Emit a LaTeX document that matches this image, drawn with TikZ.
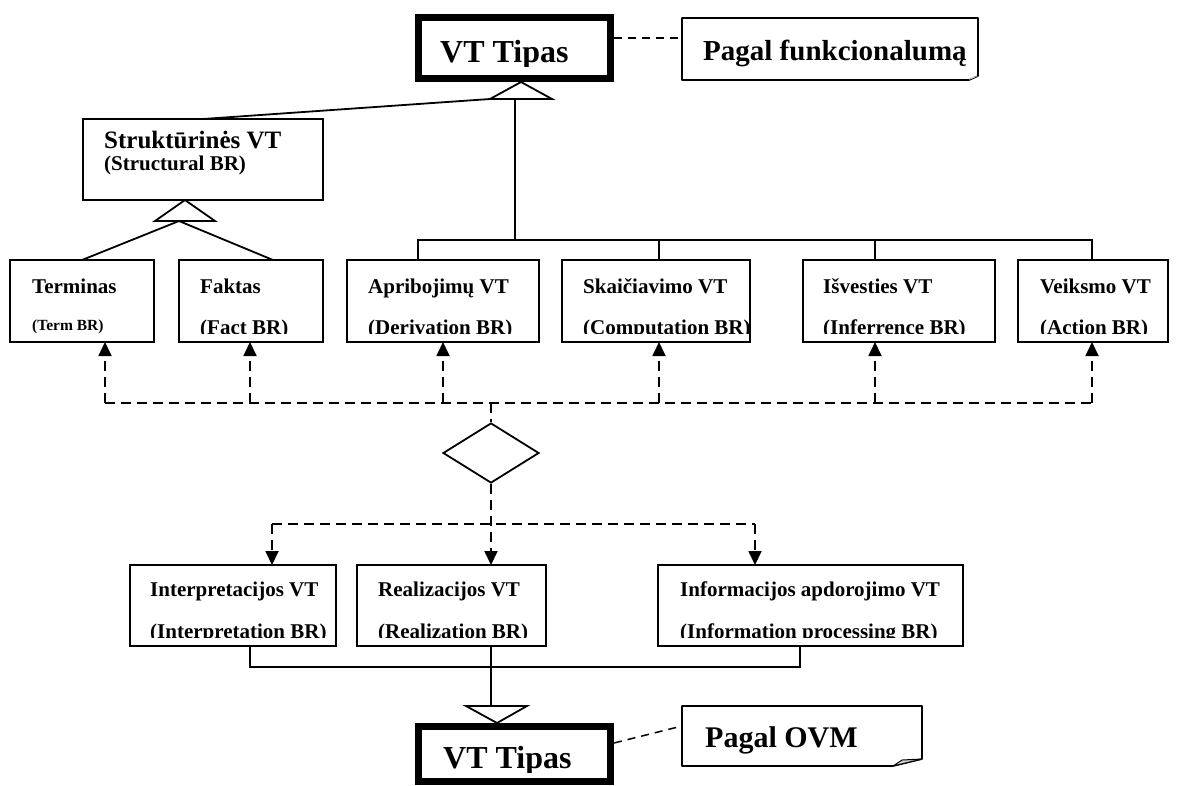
\documentclass[tikz,border=0pt]{standalone}
\usepackage{fontspec}
\setmainfont{Liberation Serif}
\usetikzlibrary{arrows.meta,shapes.geometric,calc}
\newcommand\sizept[1]{\fontsize{#1}{#1}\selectfont}
% two clipped label lines inside a box: box, x, baseline 1, baseline 2, text 1, text 2
\newcommand\twolines[6]{%
  \begin{scope}
    \clip (#1.north west) rectangle ([yshift=9pt]#1.south east);
    \node[lbl] (#1-a) at (#2,#3) {#5};
    \node[lbl] (#1-b) at (#2,#4) {#6};
  \end{scope}}

\begin{document}
\begin{tikzpicture}[x=1pt,y=-1pt,
  box/.style={draw, line width=1.8pt, rectangle, inner sep=0, outer sep=0},
  thickbox/.style={draw, line width=7pt, rectangle, inner sep=0},
  lbl/.style={anchor=base west, inner sep=0, font=\bfseries\sizept{21}},
  link/.style={line width=1.8pt},
  dlink/.style={line width=1.8pt, dash pattern=on 10pt off 6pt},
  darrow/.style={dlink, -{Triangle[length=14pt,width=13pt]}},
  notelink/.style={line width=1.5pt, dash pattern=on 8pt off 6pt},
  hollow/.style={draw, line width=1.8pt, fill=white, line join=miter},
  note/.style={inner sep=0, outer sep=0},
  noteline/.style={line width=1.6pt, line join=round},
  big/.style={anchor=base west, inner sep=0, font=\bfseries\sizept{#1}}
]
\useasboundingbox (0,0) rectangle (1177,785);

% ---------- top type box and its note ----------
\node[thickbox, minimum width=192pt, minimum height=61pt] (topvt) at (514.5,48) {};
\begin{scope}
  \clip (topvt.north west) rectangle ([yshift=16pt]topvt.south east);
  \node[big=32] (topvt-t) at (440,62) {VT Tipas};
\end{scope}

\node[note, minimum width=296pt, minimum height=62pt] (notetop) at (830,49) {};
\draw[noteline] (notetop.north west) -- (notetop.north east)
  -- ($(notetop.south east)+(0,-4)$) -- ($(notetop.south east)+(-9,0)$)
  -- (notetop.south west) -- cycle;
\fill[gray!40] ($(notetop.south east)+(-9,0)$) -- ($(notetop.south east)+(-6,-3)$)
  -- ($(notetop.south east)+(0,-4)$) -- cycle;
\node[big=29] (notetop-t) at (703,60) {Pagal funkcionalumą};
\coordinate (ct) at ([yshift=10pt]topvt.east);
\draw[notelink] (ct) -- (ct -| notetop.west);

% ---------- structural group ----------
\node[box, minimum width=240pt, minimum height=81pt] (strukt) at (203,159.5) {};
\node[big=25] (strukt-a) at (104,148) {Struktūrinės VT};
\node[lbl] (strukt-b) at (104,170) {(Structural BR)};

% generalisation to the top type
\coordinate (tl) at (490,99);
\coordinate (ta) at (521,82);
\coordinate (tr) at (552,99);
\coordinate (stem) at (515,99);
\draw[link] (strukt.north) -- (tl);
\draw[hollow] (tl) -- (ta) -- (tr) -- cycle;

% ---------- first row of rule types ----------
\node[box, minimum width=144pt, minimum height=82pt] (term) at (82,301) {};
\node[box, minimum width=144pt, minimum height=82pt] (fakt) at (251,301) {};
\node[box, minimum width=192pt, minimum height=82pt] (aprib) at (443,301) {};
\node[box, minimum width=188pt, minimum height=82pt] (skaic) at (656,301) {};
\node[box, minimum width=192pt, minimum height=82pt] (isvest) at (899,301) {};
\node[box, minimum width=150pt, minimum height=82pt] (veiks) at (1093,301) {};

\twolines{term}{32}{293}{330}{Terminas}{\sizept{15.5}(Term BR)}
\twolines{fakt}{200}{293}{334}{Faktas}{(Fact BR)}
\twolines{aprib}{368}{293}{334}{Apribojimų VT}{(Derivation BR)}
\twolines{skaic}{583}{293}{334}{Skaičiavimo VT}{(Computation BR)}
\twolines{isvest}{823}{293}{334}{Išvesties VT}{(Inferrence BR)}
\twolines{veiks}{1040}{293}{334}{Veiksmo VT}{(Action BR)}

% structural sub-types
\coordinate (sl) at (155,221);
\coordinate (sa) at (185,200);
\coordinate (sr) at (215,221);
\coordinate (sj) at (179,221);
\coordinate (fj) at (273,260);
\draw[link] (term.north) -- (sj) -- (fj);
\draw[hollow] (sl) -- (sa) -- (sr) -- cycle;

% solid bus from the top type to the four functional types
\coordinate (b1) at (418,240);
\coordinate (b2) at (659,240);
\coordinate (b3) at (875,240);
\coordinate (b4) at (1092,240);
\draw[link] (stem) -- (stem |- b1);
\draw[link] (b1 |- aprib.north) -- (b1) -- (b4) -- (b4 |- veiks.north);
\draw[link] (b2) -- (b2 |- skaic.north);
\draw[link] (b3) -- (b3 |- isvest.north);

% ---------- dashed mapping through the decision ----------
\coordinate (u1) at (105,403);
\coordinate (u2) at (250,403);
\coordinate (u3) at (443,403);
\coordinate (u4) at (659,403);
\coordinate (u5) at (875,403);
\coordinate (u6) at (1092,403);
\coordinate (uc) at (491,403);
\draw[dlink] (u1) -- (u6);
\draw[darrow] (u1) -- (u1 |- term.south);
\draw[darrow] (u2) -- (u2 |- fakt.south);
\draw[darrow] (u3) -- (u3 |- aprib.south);
\draw[darrow] (u4) -- (u4 |- skaic.south);
\draw[darrow] (u5) -- (u5 |- isvest.south);
\draw[darrow] (u6) -- (u6 |- veiks.south);

\node[draw, diamond, line width=1.8pt, minimum width=96pt, minimum height=60pt,
      inner sep=0, aspect=1.6] (dia) at (491,453) {};
\draw[dlink] (uc) -- (dia.north);

% ---------- second row of rule types ----------
\node[box, minimum width=206pt, minimum height=81pt] (interp) at (233,605.5) {};
\node[box, minimum width=189pt, minimum height=81pt] (realiz) at (451.5,605.5) {};
\node[box, minimum width=305pt, minimum height=81pt] (inform) at (810.5,605.5) {};

\twolines{interp}{150}{596}{638}{Interpretacijos VT}{(Interpretation BR)}
\twolines{realiz}{378}{596}{638}{Realizacijos VT}{(Realization BR)}
\twolines{inform}{680}{596}{638}{Informacijos apdorojimo VT}{(Information processing BR)}

\coordinate (l1) at (272,524);
\coordinate (l3) at (755,524);
\draw[dlink] (l1) -- (l3);
\draw[darrow] (dia.south) -- (dia.south |- realiz.north);
\draw[darrow] (l1) -- (l1 |- interp.north);
\draw[darrow] (l3) -- (l3 |- inform.north);

% solid bus to the bottom type
\coordinate (m1) at (250,667);
\coordinate (mc) at (491,667);
\coordinate (m3) at (800,667);
\coordinate (bl) at (466,706);
\coordinate (br) at (527,706);
\coordinate (ba) at (497,723);
\draw[link] (m1 |- interp.south) -- (m1) -- (m3) -- (m3 |- inform.south);
\draw[link] (mc |- realiz.south) -- (mc |- bl);
\draw[hollow] (bl) -- (br) -- (ba) -- cycle;

% ---------- bottom type box and its note ----------
\node[thickbox, minimum width=192pt, minimum height=55pt] (botvt) at (514.5,754) {};
\begin{scope}
  \clip (botvt.north west) rectangle ([yshift=13pt]botvt.south east);
  \node[big=32] (botvt-t) at (443,768) {VT Tipas};
\end{scope}

\node[note, minimum width=240pt, minimum height=60pt] (notebot) at (802,736) {};
\draw[noteline] (notebot.north west) -- (notebot.north east)
  -- ($(notebot.south east)+(0,-7)$) -- ($(notebot.south east)+(-29,0)$)
  -- (notebot.south west) -- cycle;
\filldraw[gray!40, draw=black, line width=1pt] ($(notebot.south east)+(-29,0)$)
  -- ($(notebot.south east)+(-20,-6)$) -- ($(notebot.south east)+(0,-7)$) -- cycle;
\node[big=30] (notebot-t) at (705,747) {Pagal OVM};
\draw[notelink] ([yshift=11pt]botvt.east) -- ([yshift=10pt]notebot.west);

\end{tikzpicture}
\end{document}
